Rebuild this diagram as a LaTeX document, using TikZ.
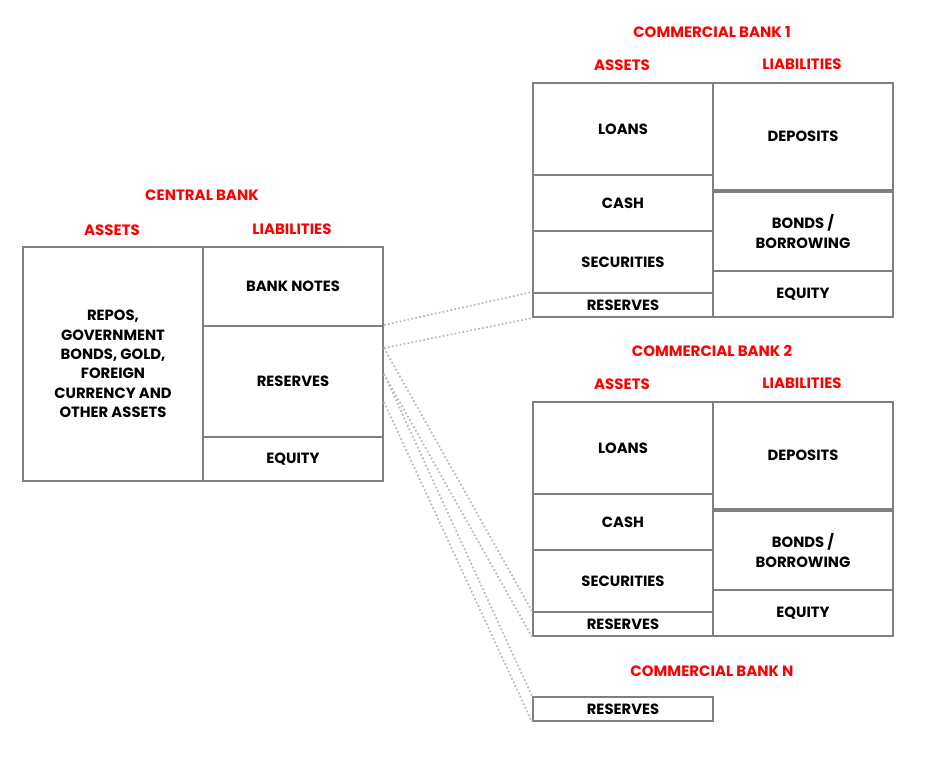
\documentclass[tikz,border=0pt]{standalone}
\usepackage{fontspec}
\setmainfont{Poppins}
\usetikzlibrary{calc}
\definecolor{boxgray}{HTML}{808080}
\definecolor{linkgray}{HTML}{BDBDBD}
\definecolor{headred}{HTML}{FF0000}

\begin{document}
\begin{tikzpicture}[x=1pt,y=-1pt,
  cell/.style={draw=boxgray,line width=2pt,inner sep=0pt,align=center,
    font=\fontsize{14.8}{19.3}\selectfont\bfseries,minimum width=180pt},
  head/.style={text=headred,font=\fontsize{15}{17}\selectfont\bfseries},
  link/.style={draw=linkgray,line width=1.8pt,dash pattern=on 1.8pt off 2.2pt}]
  \useasboundingbox (0,0) rectangle (928,756);

  % central bank
  \node[head] (cbtitle) at (202,195) {CENTRAL BANK};
  \node[head] (cbass) at (112,230) {ASSETS};
  \node[head] (cbliab) at (292,229) {LIABILITIES};
  \node[cell,minimum height=234pt] (cbassets) at (113,364) {REPOS,\\GOVERNMENT\\BONDS, GOLD,\\FOREIGN\\CURRENCY AND\\OTHER ASSETS};
  \node[cell,minimum height=79pt] (cbnotes) at (293,286.5) {BANK NOTES};
  \node[cell,minimum height=111pt] (cbres) at (293,381.5) {RESERVES};
  \node[cell,minimum height=44pt] (cbequity) at (293,459) {EQUITY};

  % commercial bank 1
  \node[head] (b1title) at (712,32) {COMMERCIAL BANK 1};
  \node[head] (b1ass) at (622,65) {ASSETS};
  \node[head] (b1liab) at (802,64) {LIABILITIES};
  \node[cell,minimum height=92pt] (b1loans) at (623,129) {LOANS};
  \node[cell,minimum height=56pt] (b1cash) at (623,203) {CASH};
  \node[cell,minimum height=62pt] (b1sec) at (623,262) {SECURITIES};
  \node[cell,minimum height=24pt] (b1res) at (623,305) {RESERVES};
  \node[cell,minimum height=107pt] (b1dep) at (803,136.5) {DEPOSITS};
  \node[cell,minimum height=79pt] (b1bonds) at (803,231.5) {BONDS /\\BORROWING};
  \node[cell,minimum height=46pt] (b1equity) at (803,294) {EQUITY};

  % commercial bank 2
  \node[head] (b2title) at (712,351) {COMMERCIAL BANK 2};
  \node[head] (b2ass) at (622,384) {ASSETS};
  \node[head] (b2liab) at (802,383) {LIABILITIES};
  \node[cell,minimum height=92pt] (b2loans) at (623,448) {LOANS};
  \node[cell,minimum height=56pt] (b2cash) at (623,522) {CASH};
  \node[cell,minimum height=62pt] (b2sec) at (623,581) {SECURITIES};
  \node[cell,minimum height=24pt] (b2res) at (623,624) {RESERVES};
  \node[cell,minimum height=107pt] (b2dep) at (803,455.5) {DEPOSITS};
  \node[cell,minimum height=79pt] (b2bonds) at (803,550.5) {BONDS /\\BORROWING};
  \node[cell,minimum height=46pt] (b2equity) at (803,613) {EQUITY};

  % commercial bank n
  \node[head] (bntitle) at (712,671) {COMMERCIAL BANK N};
  \node[cell,minimum height=24pt] (bnres) at (623,709) {RESERVES};

  % dotted links from the reserves
  \coordinate (ra) at ($(cbres.north east)+(0,23)$);
  \coordinate (rb) at ($(cbres.north east)+(0,49)$);
  \coordinate (rc) at ($(cbres.north east)+(0,77)$);
  \draw[link] (cbres.north east) -- (b1res.north west);
  \draw[link] (ra) -- (b1res.south west);
  \draw[link] (ra) -- (b2res.north west);
  \draw[link] (rb) -- (b2res.south west);
  \draw[link] (rb) -- (bnres.north west);
  \draw[link] (rc) -- (bnres.south west);

\end{tikzpicture}
\end{document}
